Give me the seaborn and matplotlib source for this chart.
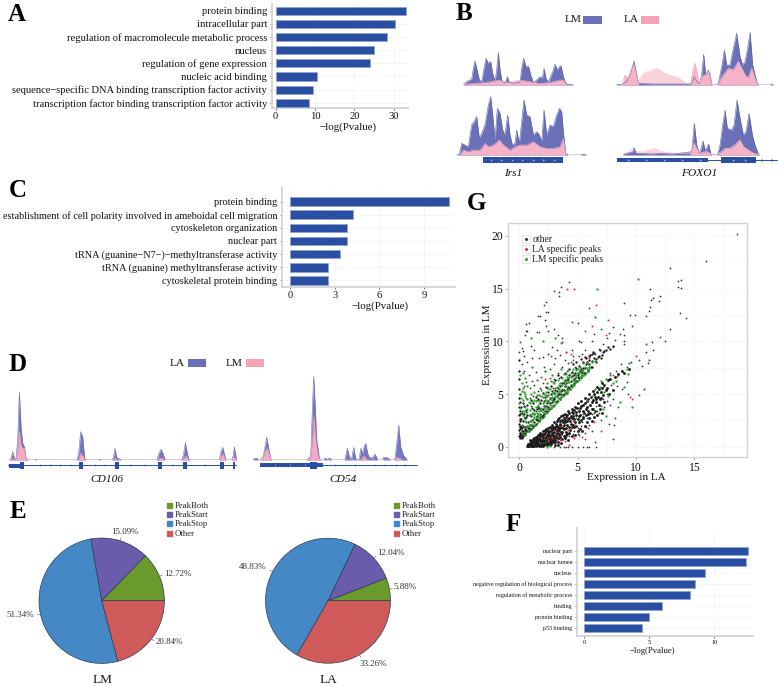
import matplotlib
matplotlib.use("Agg")
import matplotlib.pyplot as plt
import seaborn as sns
import pandas as pd
import numpy as np
from matplotlib.patches import Rectangle
from matplotlib.lines import Line2D
from matplotlib.legend_handler import HandlerTuple

sns.set_theme(style="white")
plt.rcParams['font.family'] = ['Liberation Serif', 'DejaVu Serif']
plt.rcParams['axes.unicode_minus'] = True

W, H = 778, 687
# ---------------- data ----------------
a_terms = ["protein binding", "intracellular part", "regulation of macromolecule metabolic process", "nucleus",
           "regulation of gene expression", "nucleic acid binding",
           "sequence\u2212specific DNA binding transcription factor activity",
           "transcription factor binding transcription factor activity"]
a_vals = [33.0, 30.4, 28.2, 25.1, 23.9, 10.5, 9.6, 8.6]
c_terms = ["protein binding", "establishment of cell polarity involved in ameboidal cell migration",
           "cytoskeleton organization", "nuclear part", "tRNA (guanine\u2212N7\u2212)\u2212methyltransferase activity",
           "tRNA (guanine) methyltransferase activity", "cytoskeletal protein binding"]
c_vals = [10.65, 4.2, 3.83, 3.83, 3.35, 2.57, 2.55]
f_terms = ["nuclear part", "nuclear lumen", "nucleus", "negative regulation of biological process",
           "regulation of metabolic process", "binding", "protein binding", "p53 binding"]
f_vals = [12.58, 12.45, 9.3, 8.5, 8.1, 5.95, 4.95, 4.45]
pie_labels = ["PeakBoth", "PeakStart", "PeakStop", "Other"]
pie_lm = [12.72, 15.09, 51.34, 20.84]
pie_la = [5.88, 12.04, 48.83, 33.26]
pie_colors = ["#6b9a2c", "#6a5cab", "#4488c6", "#d05a5a"]

irs1_top_lm = [(130,0),(140,10),(150,15),(155,18),(160,50),(165,72),(170,50),(178,15),(185,10),(192,50),(198,80),(205,65),(212,70),(218,35),(225,12),(230,45),(235,98),(240,45),(246,12),(255,5),(262,25),(268,8),(280,5),(300,8),(305,50),(311,80),(318,55),(326,55),(332,30),(340,8),(350,15),(360,25),(367,20),(372,50),(378,20),(385,8),(392,25),(398,40),(405,62),(412,45),(418,55),(423,58),(430,25),(437,5),(445,2),(455,2),(460,0)]
irs1_top_la = [(130,2),(160,5),(200,8),(235,15),(260,8),(300,15),(330,10),(360,5),(390,8),(420,15),(430,15),(437,3),(440,0)]
irs1_bot_lm = [(110,0),(118,3),(125,35),(135,30),(145,25),(155,90),(162,100),(170,115),(178,50),(185,65),(195,90),(205,150),(212,175),(218,120),(225,45),(232,140),(240,125),(248,75),(255,60),(263,120),(270,60),(277,30),(285,35),(290,75),(298,35),(305,100),(312,165),(320,120),(330,115),(340,60),(350,70),(358,60),(365,40),(372,135),(380,60),(390,90),(400,85),(410,120),(418,140),(425,130),(430,70),(437,5),(445,0),(480,0),(490,3),(500,0)]
irs1_bot_la = [(120,2),(130,15),(145,10),(160,15),(180,15),(195,35),(205,25),(220,30),(238,45),(250,30),(270,15),(285,25),(300,30),(320,30),(340,40),(360,25),(380,20),(400,20),(420,25),(430,50),(437,5),(440,0)]
foxo_top_lm = [(590,2),(600,2),(606,0),(608,3),(620,10),(630,30),(642,72),(650,30),(656,5),(700,3),(760,3),(815,3),(823,25),(830,10),(838,3),(845,30),(851,92),(857,30),(865,45),(870,30),(875,2),(878,0),(893,0),(900,30),(906,60),(913,105),(920,60),(930,60),(940,110),(950,155),(960,85),(968,60),(975,70),(983,110),(990,158),(998,60),(1005,30),(1012,5),(1015,0),(1050,0),(1055,3),(1060,0)]
foxo_top_la = [(608,5),(615,30),(625,20),(635,50),(642,60),(650,30),(655,5),(660,20),(670,35),(680,40),(695,45),(710,50),(720,45),(735,35),(750,30),(770,25),(785,15),(800,5),(812,5),(818,40),(825,65),(832,30),(838,5),(845,25),(855,30),(865,40),(870,35),(875,3),(878,0),(893,0),(900,15),(910,30),(925,50),(940,45),(955,70),(965,50),(975,30),(985,20),(995,50),(1003,25),(1012,3),(1014,0)]
foxo_bot_lm = [(610,2),(640,10),(642,22),(648,5),(700,3),(720,5),(760,3),(815,10),(823,95),(830,30),(838,5),(842,15),(849,42),(855,15),(860,20),(866,33),(872,5),(875,0),(892,0),(900,30),(908,90),(915,135),(922,80),(935,75),(942,90),(951,165),(960,110),(970,60),(978,70),(987,125),(997,60),(1005,30),(1015,3),(1018,0)]
foxo_bot_la = [(610,3),(625,8),(640,22),(650,10),(665,10),(680,15),(705,20),(720,12),(740,8),(780,5),(812,5),(822,35),(832,15),(840,5),(848,8),(860,10),(870,5),(875,0),(892,2),(905,10),(915,20),(930,20),(945,30),(960,45),(970,25),(985,15),(1000,5),(1015,2),(1018,0)]

cd106_la = [(28,0),(33,5),(38,25),(43,5),(48,5),(53,60),(58,205),(63,100),(68,50),(73,40),(78,5),(85,0),(105,0),(108,3),(112,0),(230,0),(236,20),(242,85),(248,70),(254,5),(258,0),(296,0),(300,3),(304,0),(335,0),(340,8),(345,35),(350,8),(358,3),(365,0),(470,0),(477,20),(483,32),(489,20),(495,0),(545,0),(550,15),(556,52),(562,20),(566,3),(570,0),(658,0),(663,25),(668,38),(674,15),(678,0),(695,0),(700,15),(703,40),(707,15),(710,0)]
cd106_lm = [(28,0),(38,3),(48,3),(53,30),(58,85),(63,45),(68,35),(73,35),(78,3),(82,0),(232,0),(236,3),(242,20),(250,10),(254,0),(340,0),(345,6),(350,0),(474,0),(478,5),(488,5),(492,0),(546,0),(550,4),(558,12),(564,2),(567,0),(659,0),(663,12),(670,18),(675,2),(678,0),(696,0),(700,10),(706,5),(710,0)]
cd54_la = [(760,0),(762,5),(772,5),(774,0),(780,0),(785,5),(790,12),(795,40),(800,68),(806,35),(812,5),(816,0),(920,0),(925,5),(932,10),(938,180),(941,250),(945,175),(950,60),(958,5),(962,0),(972,0),(973,5),(980,5),(982,0),(984,0),(985,5),(992,5),(994,0),(1032,0),(1035,3),(1042,35),(1048,10),(1052,3),(1055,5),(1061,38),(1067,5),(1072,0),(1076,2),(1078,5),(1082,35),(1088,20),(1092,40),(1097,50),(1103,20),(1108,8),(1118,6),(1125,18),(1130,8),(1133,0),(1148,0),(1150,8),(1160,8),(1170,2),(1173,0),(1183,0),(1185,5),(1190,50),(1196,105),(1202,40),(1210,15),(1218,5),(1222,0)]
cd54_lm = [(780,0),(785,5),(790,10),(797,30),(802,35),(812,5),(815,0),(922,0),(925,2),(932,8),(938,70),(942,130),(946,70),(952,20),(958,3),(960,0),(1052,0),(1058,3),(1062,0),(1082,0),(1085,5),(1092,12),(1098,5),(1102,0),(1186,0),(1190,8),(1200,5),(1206,0)]

other_lower = [(0.8,0.1),(0.9,0.3),(1.0,0.1),(1.0,0.5),(1.1,0.2),(1.2,0.4),(1.2,0.7),(1.3,0.1),(1.4,0.5),(1.4,0.9),(1.5,0.2),(1.6,0.7),(1.6,1.1),(1.7,0.3),(1.8,0.9),(1.8,1.3),(1.9,0.1),(1.9,0.5),(2.0,1.1),(2.0,1.5),(2.1,0.3),(2.2,0.8),(2.2,1.3),(2.3,1.7),(2.4,0.5),(2.4,1.0),(2.5,1.5),(2.6,1.9),(2.6,0.2),(2.7,0.8),(2.8,1.3),(2.8,2.1),(2.9,1.7),(3.0,1.0),(3.0,2.3),(3.1,0.4),(3.2,1.5),(3.2,2.0),(3.3,2.6),(3.4,1.1),(3.5,1.8),(3.5,2.4),(3.6,2.9),(3.7,1.4),(3.8,2.1),(3.8,2.7),(3.9,3.1),(4.0,1.8),(4.1,2.4),(4.1,3.0),(4.2,3.4),(4.4,2.2),(4.4,2.9),(4.5,3.6),(4.6,3.2),(4.7,2.6),(4.8,3.8),(4.9,3.3),(5.0,4.1),(5.1,2.9),(5.2,3.7),(5.3,4.3),(5.5,3.4),(5.5,4.0),(5.6,4.6),(5.8,3.8),(5.9,4.5),(6.0,5.0),(6.2,4.2),(6.3,5.3),(6.5,4.7),(6.7,5.7),(7.0,5.2),(7.1,6.0),
(0.7,0.1),(0.75,0.2),(0.85,0.15),(0.95,0.6),(1.05,0.35),(1.15,0.05),(1.25,0.55),(1.35,0.3),(1.45,0.75),(1.55,0.45),(1.65,0.1),(1.75,0.6),(1.85,1.1),(1.95,0.75),(2.05,0.1),(2.15,0.55),(2.25,1.05),(2.35,0.25),(2.45,1.25),(2.55,0.7),(2.65,1.45),(2.75,0.45),(2.85,1.0),(2.95,0.6),(3.05,1.9),(3.15,1.2),(3.25,0.8),(3.35,1.7),(3.45,2.2),(3.55,1.2),(3.65,2.5),(3.75,1.8),(3.95,2.5),(4.25,2.7),
(0.72,0.05),(0.78,0.28),(0.88,0.38),(1.02,0.28),(1.12,0.55),(1.08,0.06),(1.22,0.18),(1.28,0.82),(1.32,0.38),(1.42,0.1),(1.42,0.68),(1.52,0.35),(1.52,0.95),(1.62,0.22),(1.62,0.55),(1.72,0.75),(1.72,1.15),(1.82,0.15),(1.82,0.42),(1.88,0.68),(1.92,1.25),(2.02,0.25),(2.02,0.52),(2.02,0.88),(2.12,0.12),(2.12,1.22),(2.18,0.65),(2.18,1.55),(2.28,0.38),(2.28,0.9),(2.32,1.45),(2.38,0.15),(2.42,0.72),(2.42,1.2),(2.48,1.75),(2.52,0.35),(2.52,0.98),(2.58,1.4),(2.62,0.55),(2.68,1.1),(2.68,1.75),(2.72,0.25),(2.78,1.55),(2.82,0.65),(2.88,0.4),(2.88,1.15),(2.92,1.9),(2.98,0.8),(2.98,1.4),(3.08,0.15),(3.08,0.6),(3.08,1.65),(3.12,2.2),(3.18,1.0),(3.22,2.4),(3.28,0.45),(3.28,1.3),(3.32,1.9),(3.42,0.8),(3.42,1.55),(3.42,2.75),(3.52,0.95),(3.52,2.1),(3.58,1.4),(3.62,0.7),(3.68,1.9),(3.72,2.35),(3.72,3.0),(3.82,1.05),(3.82,1.65),(3.92,2.3),(3.98,1.35),(3.98,2.85),(4.08,2.05),(4.12,1.25),(4.18,2.65),(4.22,3.2),(4.28,1.9),(4.32,2.45),(4.38,1.55),(4.48,2.75),(4.52,3.3),(4.58,2.1),(4.62,2.9),(4.72,3.5),(4.78,2.35),(4.88,3.0),(4.92,3.7),(5.02,2.6),(5.12,3.4),(5.22,3.0),(5.32,3.9),(5.42,2.8),(5.52,3.2),(5.62,4.1),(5.72,3.55),(5.82,4.3),(5.92,3.1),(6.02,4.0),(6.12,4.7),(6.22,3.6),(6.32,4.4),(6.42,5.0),(6.55,4.2),(6.62,5.2),(6.72,4.7),(6.85,5.5),(6.95,4.5),(7.1,5.6),(7.3,5.9),(7.4,5.4),(7.6,6.3),(7.8,6.4),
(3.3,0.2),(3.6,0.35),(3.9,0.8),(4.0,1.1),(4.2,0.6),(4.3,1.3),(4.5,1.0),(4.5,1.9),(4.7,1.9),(4.8,1.1),(4.9,2.0),(5.0,1.5),(5.1,2.3),(5.2,1.7),(5.3,2.5),(5.4,1.5),(5.5,2.7),(5.6,2.0),(5.7,3.0),(5.8,2.3),(5.9,3.4),(6.0,2.7),(6.1,3.2),(6.2,2.4),(6.3,3.6),(6.4,2.8),(6.5,3.4),(6.6,4.5),(6.7,3.0),(6.8,4.0),(6.9,3.6),(7.0,4.6),(7.1,3.2),(7.2,4.9),(7.3,4.2),(7.5,5.6),(7.7,5.0),(8.0,5.4),(8.2,6.6),(8.5,6.9),(8.8,7.2),(9.0,7.0),(9.4,7.4)]
other_upper = [(0.0,1.0),(0.0,1.6),(0.0,2.2),(0.0,3.0),(0.0,3.8),(0.0,4.6),(0.0,5.5),(0.0,6.4),(0.0,7.2),(0.0,8.2),(0.1,0.8),(0.1,1.3),(0.1,2.0),(0.2,0.9),(0.2,1.5),(0.3,1.1),(0.3,2.4),(0.5,1.2),(0.5,1.7),(0.8,1.5),(1.0,1.7),(1.2,2.0),(1.4,2.2),(1.5,2.5),(1.7,2.4),(1.8,2.8),(2.0,3.0),(2.0,2.8),(2.2,3.4),(2.4,3.3),(2.5,3.8),(2.7,3.7),(2.8,4.2),(3.0,4.0),(3.0,4.5),(3.2,4.3),(3.3,5.0),(3.5,4.6),(3.6,5.3),(3.8,5.0),(3.9,5.8),(4.0,5.2),(4.1,6.3),(4.3,5.6),(4.4,6.2),(4.6,5.9),(4.7,6.8),(4.9,6.2),(5.0,7.0),(5.1,6.5),(5.3,7.4),(5.4,6.8),(5.6,7.0),(5.7,7.8),(5.9,7.3),(6.0,8.2),(6.2,7.6),(6.4,8.4),(6.6,8.0),(6.8,8.6),(7.0,8.4),(7.2,9.0),(7.4,9.2),(7.6,9.5),(7.8,9.3),(8.0,9.6),
(0.02,1.3),(0.02,1.9),(0.02,2.6),(0.02,3.4),(0.02,4.2),(0.02,5.0),(0.05,0.9),(0.05,1.15),(0.08,1.7),(0.08,2.4),(0.1,3.1),(0.12,3.8),(0.15,1.1),(0.15,1.9),(0.18,2.6),(0.22,1.2),(0.22,3.2),(0.25,0.85),(0.25,1.8),(0.28,4.1),(0.32,1.5),(0.35,1.0),(0.35,2.0),(0.38,3.1),(0.42,1.3),(0.45,1.9),(0.48,2.7),(0.52,1.45),(0.55,3.5),(0.58,1.6),(0.62,2.0),(0.65,1.5),(0.68,3.0),(0.72,1.75),(0.78,2.3),(0.82,1.8),(0.88,1.7),(0.92,2.1),(0.98,2.9),(1.05,2.0),(1.1,2.5),(1.15,1.9),(1.25,2.3),(1.3,3.1),(1.35,2.1),(1.45,2.6),(1.55,2.9),(1.6,3.8),(1.65,2.5),(1.75,3.1),(1.85,3.5),(1.95,2.9),(2.05,3.6),(2.15,3.1),(2.15,4.3),(2.25,3.9),(2.35,3.4),(2.45,4.3),(2.55,3.6),(2.65,4.1),(2.75,5.0),(2.85,3.9),(2.95,4.6),(3.05,5.4),(3.15,4.2),(3.25,4.8),(3.35,5.6),(3.45,4.5),(3.55,5.0),(3.65,6.0),(3.75,4.9),(3.85,5.4),(3.95,6.3),(4.05,5.1),(4.15,5.7),(4.25,6.8),(4.35,5.5),(4.45,5.9),(4.55,7.1),(4.65,6.0),(4.75,6.5),(4.85,7.5),(4.95,6.2),(5.05,6.8),(5.15,7.7),(5.25,6.6),(5.35,7.1),(5.45,8.0),(5.55,7.0),(5.65,7.5),(5.75,8.4),(5.85,7.2),(5.95,7.8),(6.05,8.7),(6.15,7.6),(6.25,8.1),(6.35,9.0),(6.55,8.3),(6.75,8.5),(6.95,9.2),(7.1,8.7),(7.3,9.1),
(0.4,3.9),(0.6,2.8),(0.7,4.0),(0.9,3.0),(1.0,4.4),(1.1,3.7),(1.2,4.1),(1.3,3.5),(1.4,4.7),(1.5,3.6),(1.6,4.5),(1.7,3.7),(1.8,4.1),(1.9,4.4),(2.0,5.1),(2.1,3.9),(2.2,4.7),(2.3,5.7),(2.4,4.1),(2.5,5.2),(2.6,4.6),(2.7,5.8),(2.8,5.3),(2.9,4.4),(3.0,5.1),(3.1,6.3),(3.2,5.3),(3.3,6.8),(3.4,5.0),(3.5,5.8),(3.6,6.6),(3.7,5.4),(3.8,6.0),(3.9,7.0),(4.0,6.0),(4.1,5.5),(4.2,6.4),(4.3,7.4),(4.4,5.8),(4.5,6.7),(4.6,7.8),(4.7,6.3),(4.8,7.0),(4.9,8.0),(5.0,6.6),(5.2,7.2),(5.3,8.3),(5.5,7.5),(5.6,8.5),(5.8,8.0),(6.0,8.6),(6.2,8.8),(6.4,8.9)]
other_sparse = [(18.7,20.2),(16.0,17.6),(12.9,17.0),(13.6,15.7),(13.9,15.8),(13.6,15.2),(13.9,15.1),(11.2,15.0),(11.5,14.1),(11.3,13.9),(12.1,14.3),(12.0,13.8),(11.2,13.3),(11.1,12.9),(10.9,12.4),(13.8,12.7),(14.3,12.2),(12.9,11.2),(12.1,10.4),(12.5,10.0),(11.4,9.9),(11.5,9.2),(10.9,9.0),(11.0,7.9),(9.0,13.6),(9.5,12.5),(9.9,12.5),(9.7,11.5),(4.3,15.6),(3.6,15.2),(3.4,14.7),(3.0,14.8),(3.4,14.3),(2.3,13.7),(2.1,13.4),(2.3,12.8),(2.5,12.8),(1.6,12.4),(1.8,12.4),(2.2,12.0),(0.6,11.6),(0.8,11.7),(0.6,11.0),(0.7,11.0),(0.5,10.6),(1.5,10.9),(2.3,11.5),(2.5,11.0),(3.0,11.2),(3.3,10.6),(3.7,10.3),(5.0,11.7),(6.0,13.2),(5.3,9.9),(5.1,10.0),(6.2,10.0),(6.4,10.7),(7.0,11.2),(8.0,11.4),(7.7,10.8),(8.9,11.2),(9.0,10.6),(8.6,10.7),(8.2,10.1),(8.0,9.5),(9.0,10.0),(9.0,9.7),
(10.3,4.9),(9.3,5.0),(8.0,4.5),(8.5,3.8),(8.2,2.7),(8.1,2.1),(8.0,0.7),(7.7,2.2),(7.0,2.5),(6.2,1.5),(6.5,0.4),(6.0,0.0),(5.0,0.0),(5.5,0.0),(5.8,0.0),(4.5,0.0),(4.0,0.0),(3.5,0.0),(3.0,0.0),(4.2,0.0),(3.8,0.0),(6.6,0.0),
(0.0,9.0),(0.1,9.9),(0.2,9.4),(0.3,9.1),(0.4,8.6),(0.2,7.8),(0.4,7.2),(0.7,8.0),(1.0,9.6),(1.3,9.2),(1.1,8.4),(0.8,6.8),(0.6,6.1),(0.4,5.8),(0.9,5.6),(1.4,7.1),(1.7,8.4),(2.0,8.5),(2.2,7.2),(2.5,8.8),(2.8,9.5),(3.2,9.2),(3.5,8.7),(4.0,9.0),(4.5,9.2),(3.0,7.8),(3.7,7.6),(4.4,8.0),(5.1,8.6),(5.6,9.2),(2.0,6.0),(2.6,6.5),(1.2,4.8),(1.6,5.3),(1.0,3.9),(0.7,3.3),(1.4,3.4),(2.3,4.9),(2.9,5.6),(3.4,6.5),(4.1,7.2),(4.8,7.6),(6.5,8.8),(6.8,9.3),(7.2,9.7),(7.5,10.3),
(7.8,7.0),(8.3,7.2),(8.7,7.8),(9.2,7.6),(9.6,8.0),(10.3,8.2),(10.5,7.7),(7.5,5.0),(7.2,5.7),(6.9,4.6),(6.6,3.9),(6.2,3.1),(5.8,2.7),(5.4,2.3),(5.0,1.8),(4.6,1.2),(4.0,0.9),(5.6,1.3),(5.1,1.1),(6.0,2.1),(6.8,3.2),(7.3,3.8),(7.8,4.0),(8.8,5.5),(9.2,6.1),(8.4,5.8),(7.9,5.9),
(0.5,4.8),(0.9,4.6),(1.1,6.2),(1.3,5.9),(1.5,4.4),(1.8,5.6),(1.9,6.6),(2.1,7.6),(2.4,5.6),(2.6,7.4),(3.0,6.4),(3.1,8.4),(3.3,7.0),(3.9,8.2),(4.2,7.9),(4.6,8.6),(5.4,8.8),(5.3,2.0),(5.7,1.9),(6.1,2.7),(6.4,3.2),(6.7,3.4),(7.0,3.9),(7.2,4.5),(7.5,4.3),(4.3,1.0),(4.7,1.5),(5.0,1.2)]
green_pts = [(0.0,4.1),(0.1,5.0),(0.1,6.8),(0.2,6.0),(0.2,3.4),(0.3,4.4),(0.3,7.0),(0.4,2.8),(0.4,5.2),(0.5,3.8),(0.5,6.5),(0.6,2.3),(0.6,4.6),(0.7,2.0),(0.7,5.8),(0.8,3.0),(0.8,4.2),(0.9,2.4),(1.0,3.0),(1.0,5.0),(1.1,2.2),(1.2,3.6),(1.2,2.6),(1.3,4.4),(1.4,2.8),(1.5,3.2),(1.6,2.7),(1.6,4.0),(1.7,3.4),(1.8,3.0),(1.9,3.7),(1.9,4.8),(2.0,3.3),(2.1,4.2),(2.2,3.7),(2.3,4.4),(2.4,3.6),(2.5,4.9),(2.6,4.0),(2.7,4.5),(2.8,3.9),(2.9,5.2),(3.0,4.3),(3.1,4.8),(3.2,5.7),(3.3,4.6),(3.4,5.2),(3.5,6.0),(3.6,4.9),(3.7,5.5),(3.8,6.2),(3.9,5.2),(4.0,5.8),(4.1,6.6),(4.2,5.5),(4.3,6.1),(4.4,7.0),(4.5,5.9),(4.6,6.4),(4.8,6.1),(4.9,6.8),(5.0,7.4),(5.2,6.6),(5.3,7.0),(5.5,7.3),(5.6,6.9),(5.8,7.5),(6.0,7.6),(6.2,8.0),(6.5,8.1),(2.2,7.2),(1.5,6.3),(2.8,6.8),(3.6,7.4),(1.1,7.6),(3.7,9.9),(3.1,10.3),(6.5,12.3),(6.7,15.0),(10.2,15.9),(2.0,10.0),(1.0,10.3),
(7.0,6.2),(7.4,6.4),(7.8,6.8),(8.0,6.0),(6.5,5.5),(6.9,5.7),(6.2,4.8),(5.8,4.4),(7.3,5.2),(7.6,4.8),(8.3,6.2),(9.2,7.4),(9.4,7.9),(9.3,6.9),(9.0,5.7),(7.4,2.9),(7.2,3.6),(8.6,4.2),(9.7,3.8),(10.7,5.5),(10.9,9.7),(11.1,8.2),(6.4,3.5),(5.5,3.1),(4.9,2.7),(2.4,0.0),(2.6,0.1),
(0.3,1.2),(0.45,1.1),(0.6,1.35),(0.75,1.5),(0.9,1.6),(1.05,1.75),(1.2,1.9),(1.35,2.05),(1.5,2.25),(1.65,2.4),(1.8,2.6),(1.95,2.75),(2.1,2.95),(2.25,3.15),(2.4,3.3),(2.55,3.45),(2.7,3.65),(2.85,3.85),(3.0,4.0),(3.15,4.15),(3.3,4.3),(3.45,4.5),(3.6,4.7),(3.75,4.8),(3.9,5.0),(4.05,5.2),(4.2,5.35),(4.35,5.5),(4.5,5.7),(4.65,5.85),(4.8,6.0),(4.95,6.2),(5.1,6.35),(5.25,6.5),(5.4,6.7),(5.55,6.85),(5.7,7.0),(5.85,7.2),(6.0,7.4),(1.0,2.4),(1.3,2.8),(1.6,3.1),(1.9,3.5),(2.2,3.9),(2.5,4.2),(2.8,4.7),(3.1,5.1),(3.4,5.5),(3.7,5.9),(4.0,6.3),(4.3,6.6),(4.6,7.0),(4.9,7.3),(5.2,7.6),(5.5,7.9),(0.2,2.1),(0.3,3.0),(0.5,2.4),(0.6,3.3),(0.8,2.1),(0.9,3.5),(1.1,3.2),(1.4,3.8),(1.7,4.3),(2.0,4.7),(2.3,5.2),(2.6,5.5),(3.0,6.0),(3.3,6.3),(3.8,6.9),(4.2,7.3),(0.1,3.7),(0.15,4.6),(0.2,5.3),(0.3,5.6),(0.5,5.0),(0.7,4.5),(1.3,5.2),(1.5,4.9),(1.9,5.4),(2.4,6.0),(2.7,6.2),
(0.4,3.4),(0.7,3.6),(0.9,4.1),(1.1,4.3),(1.3,3.2),(1.4,4.3),(1.5,3.8),(1.7,4.9),(1.8,3.6),(2.0,4.1),(2.1,5.0),(2.2,4.4),(2.4,4.8),(2.5,5.6),(2.6,4.5),(2.8,5.0),(2.9,6.1),(3.1,5.6),(3.2,4.9),(3.4,5.9),(3.5,5.3),(3.7,6.5),(3.9,6.0),(4.0,6.9),(4.2,6.1),(4.4,6.6),(4.6,7.4),(4.7,6.2),(4.9,6.6),(5.1,7.0),(5.4,7.3),(5.6,7.6),(5.9,7.8)]
red_pts = [(4.1,15.0),(4.7,15.0),(6.6,13.4),(4.5,11.8),(5.6,11.0),(6.2,11.5),(7.6,12.0),(1.7,10.9),(3.6,9.8),(4.0,9.0),(4.4,8.8),(4.6,8.2),(5.8,8.0),(6.0,8.4),(7.4,10.6),(2.7,8.6),(2.2,6.4),(10.0,8.6),(8.0,6.8),(8.4,6.7),(9.7,4.5),(9.5,4.7),(2.5,0.6),(2.8,0.9),(3.2,0.6),(3.4,0.3),(3.1,1.2),(3.6,1.1),(3.9,0.5),(3.0,1.6),(4.2,1.6),(4.4,1.8),(4.8,2.1),(3.7,2.0),(2.2,1.0),(1.9,0.8),(5.4,0.9),(5.6,0.7),(5.9,1.8),(6.4,2.3),(4.6,2.4),(4.7,0.8),(7.0,1.5),(4.3,0.2),(3.5,0.6)]

# ---------------- helpers ----------------
fig = plt.figure(figsize=(W/100, H/100), dpi=100, facecolor='white')

def axpx(l, t, r, b, **kw):
    return fig.add_axes([l/W, 1-b/H, (r-l)/W, (b-t)/H], **kw)

def txt(x, y, s, **kw):
    kw.setdefault('ha', 'center'); kw.setdefault('va', 'center'); kw.setdefault('color', '#111111')
    fig.text(x/W, 1-y/H, s, **kw)

for s, x, y in [("A",17,14.5),("B",464,14),("C",18,191),("D",18,364),("E",17.5,512),("F",513,524.5),("G",476,204)]:
    txt(x, y, s, fontsize=18, fontweight='bold', color='black')

BAR = "#2a4fa2"
def hbars(box, terms, vals, x0_px, ppu, y0_px, step, ticks, fs_lab, fs_tick, height, xlabel, xl_xy, fs_x, grid='#e8e8e8'):
    l, t, r, b = box
    ax = axpx(l, t, r, b)
    df = pd.DataFrame({"term": terms, "value": vals})
    sns.barplot(data=df, y="term", x="value", orient="h", color=BAR, saturation=1, width=height,
                edgecolor="#8ea2d0", linewidth=0.5, ax=ax, zorder=3)
    ax.set_xlim((l-x0_px)/ppu, (r-x0_px)/ppu)
    ax.set_ylim((b-y0_px)/step, (t-y0_px)/step)
    ax.set_xticks(ticks)
    ax.set_ylabel("")
    ax.set_xlabel(xlabel, fontsize=fs_x, color='#111111')
    ax.xaxis.set_label_coords(xl_xy[0]/W, 1-xl_xy[1]/H, transform=fig.transFigure)
    ax.xaxis.label.set_va('center')
    ax.grid(True, axis='both', color=grid, linestyle=':', linewidth=0.7, zorder=0)
    ax.set_axisbelow(True)
    for s in ['top', 'right']:
        ax.spines[s].set_visible(False)
    for s in ['left', 'bottom']:
        ax.spines[s].set_color('#d4d4d4'); ax.spines[s].set_linewidth(1.3)
    ax.tick_params(axis='y', labelsize=fs_lab, length=1.5, width=0.6, color='#555555', pad=2, left=True, labelcolor='#111111')
    ax.tick_params(axis='x', labelsize=fs_tick, length=1.5, width=0.6, color='#555555', pad=1.5, bottom=True, labelcolor='#111111')
    return ax

hbars((272,4,408,108), a_terms, a_vals, 275.5, 3.94, 10.7, 13.15, [0,10,20,30], 7.6, 7.6, 0.62, "\u2212log(Pvalue)", (348,127.5), 7.8)
hbars((282,187,455,287), c_terms, c_vals, 290, 14.9, 201.7, 13.1, [0,3,6,9], 7.4, 7.6, 0.66, "\u2212log(Pvalue)", (380,306.5), 7.8)
hbars((577,528,753,636), f_terms, f_vals, 584.3, 13.0, 551, 11.0, [0,5,10], 4.3, 4.6, 0.74, "\u2212log(Pvalue)", (652,651), 6.2)

# tracks
def seg(pts, a, b):
    inner = [p for p in pts if a <= p[0] <= b]
    return [(a-1, 0)] + inner + [(b+1, 0)]

def track(box_zoom, ox, oy, scale, base, top, layers):
    xa, xb = box_zoom
    ax = axpx(ox+xa/scale, oy+top/scale, ox+xb/scale, oy+base/scale)
    ax.set_xlim(xa, xb); ax.set_ylim(0, base-top)
    ax.axhline(0, color='#c8cde0', lw=0.5, ls=':')
    for pts, fc, ec in layers:
        xs = [p[0] for p in pts]; ys = [p[1] for p in pts]
        ax.fill_between(xs, 0, ys, color=fc, lw=0)
        sns.lineplot(x=xs, y=ys, color=ec, lw=0.4, ax=ax, estimator=None, sort=False, legend=False)
    ax.axis('off')
    ax.patch.set_alpha(0)

LMB, LMB_E, LAB, LAB_E, PALE, PALE_E = "#6a70b8", "#5a60a8", "#f5b3c8", "#f5a8c0", "#f9d3dc", "#f9c8d6"
track((100,555),420,0,3,255,85,[(irs1_top_lm,LMB,LMB_E),(irs1_top_la,LAB,LAB_E)])
track((100,555),420,0,3,465,285,[(irs1_bot_lm,LMB,LMB_E),(irs1_bot_la,LAB,LAB_E)])
track((585,1072),420,0,3,255,85,[(foxo_top_la,PALE,PALE_E),(foxo_top_lm,LMB,LMB_E),
                                  (seg(foxo_top_la,608,656),LAB,LAB_E),(seg(foxo_top_la,812,878),LAB,LAB_E),
                                  (seg(foxo_top_la,893,1014),LAB,LAB_E)])
track((585,1072),420,0,3,465,285,[(foxo_bot_la,PALE,PALE_E),(foxo_bot_lm,LMB,LMB_E),
                                  (seg(foxo_bot_la,812,875),LAB,LAB_E),(seg(foxo_bot_la,892,1018),LAB,LAB_E)])
track((20,715),0,340,3,360,100,[(cd106_la,"#7478c0",LMB),(cd106_lm,"#f5aac4","#f5a0bc")])
track((755,1255),0,340,3,360,100,[(cd54_la,"#7478c0",LMB),(cd54_lm,"#f5aac4","#f5a0bc")])

# overlay: gene models and swatches
ov = axpx(0, 0, W, H)
ov.set_xlim(0, W); ov.set_ylim(H, 0); ov.axis('off'); ov.patch.set_alpha(0)
GENE = "#2a4fa2"
def exon(x0, x1, y0, y1, c=GENE):
    ov.add_patch(Rectangle((x0, y0), x1-x0, y1-y0, fc=c, ec='none'))
exon(483.3, 563, 157, 163)
ov.plot([491,501.5,512,522.5,533,543.5,554], [160]*7, ls='none', marker='4', ms=2, color='#b8c4e4', mew=0.4)
ov.plot([616.7,777], [160,160], color=GENE, lw=0.7)
exon(616.7, 708, 158, 162)
exon(721, 755.7, 157, 163)
ov.plot([628,646,664,682,700,733,745], [160]*7, ls='none', marker='4', ms=2, color='#b8c4e4', mew=0.4)
ov.plot([762,772], [160]*2, ls='none', marker='4', ms=2.5, color=GENE, mew=0.5)
ov.plot([8.3,236], [465.3,465.3], color=GENE, lw=0.7)
exon(9, 20, 463.5, 467.5)
for a, b in [(20,24),(79.3,83.3),(114.7,118.7),(158.3,162.3),(183,187.3),(220,224),(233,235.5)]:
    exon(a, b, 462, 468.7)
ov.plot([40,50,60,70,95,105,130,145,172,205], [465.3]*10, ls='none', marker='|', ms=2, color=GENE, mew=0.5)
ov.plot([260,416.7], [465.3,465.3], color=GENE, lw=0.7)
exon(260, 322.7, 462.7, 467.3)
exon(310, 316.7, 462, 468.7)
ov.plot([335,355,374,385,396,405], [465.3]*6, ls='none', marker='|', ms=2, color=GENE, mew=0.5)
ov.plot([275,290,305], [465.3]*3, ls='none', marker='|', ms=2, color='#b8c4e4', mew=0.4)
for x0, x1, y0, y1, c in [(583,601.7,16,24,"#6a70b8"),(640.7,659,16,24,"#f4a3b4"),
                           (188,206,359,367,"#6a70b8"),(245.7,264,359,367,"#f4a3b4")]:
    exon(x0, x1, y0, y1, c)
for x, y, s in [(572.7,20,"LM"),(631,20,"LA"),(177,363.5,"LA"),(234,363.5,"LM")]:
    txt(x, y, s, fontsize=8.2)
for x, y, s in [(512.7,173,"Irs1"),(699,173,"FOXO1"),(107,479,"CD106"),(343,479,"CD54")]:
    txt(x, y, s, fontsize=8.2, style='italic')

# pies
def pie(cx, cy, r, vals, label_px):
    ax = axpx(cx-r, cy-r, cx+r, cy+r)
    wedges, _ = ax.pie(vals, colors=pie_colors, startangle=0, counterclock=True, radius=1,
                       wedgeprops=dict(edgecolor='#2d3a55', linewidth=0.5))
    ax.set_xlim(-1, 1); ax.set_ylim(-1, 1); ax.set_aspect('equal')
    for w in wedges:
        w.set_clip_on(False)
    for w, v, (x, y) in zip(wedges, vals, label_px):
        txt(x, y, f"{v:.2f}%", fontsize=6.5, color='#333333')
        th = np.deg2rad((w.theta1+w.theta2)/2)
        ax.plot([np.cos(th), 1.05*np.cos(th)], [np.sin(th), 1.05*np.sin(th)], color='#555555', lw=0.4, clip_on=False)

pie(101.7, 600.7, 62.7, pie_lm, [(178,573.5),(125,531.7),(20,615),(169.5,642)])
pie(328, 600.7, 62.5, pie_la, [(405.5,586.7),(391,553),(253,567),(373,663.5)])
txt(103, 680, "LM", fontsize=9.5)
txt(328, 680, "LA", fontsize=9.5)
for lx in [163.5, 390.5]:
    handles = [Line2D([], [], ls='none', marker='s', ms=3.6, color=c) for c in pie_colors]
    fig.legend(handles, pie_labels, loc='upper left', bbox_to_anchor=(lx/W, 1-501.5/H), frameon=False,
               fontsize=6.3, labelspacing=0.14, handletextpad=0.0, handlelength=1.3, borderpad=0, borderaxespad=0,
               labelcolor='#222222')

# scatter G
ax = axpx(508.3, 223.3, 747.3, 456.7)
def pts(df_pts, color, s, alpha=1.0):
    d = pd.DataFrame(df_pts, columns=["la", "lm"])
    sns.scatterplot(data=d, x="la", y="lm", color=color, s=s, linewidth=0, alpha=alpha, ax=ax, legend=False, zorder=3)
pts(other_lower, "#1a1a1a", 4.2)
pts(other_upper, "#1a1a1a", 2.8)
pts(other_sparse, "#333333", 1.6)
pts(green_pts, "#2ea02e", 2.8)
pts(red_pts, "#e03040", 2.0)
ax.set_xlim(-0.94, 19.54); ax.set_ylim(-0.95, 21.2)
ax.set_xticks([0,5,10,15]); ax.set_yticks([0,5,10,15,20])
ax.set_xticks([2.5,7.5,12.5,17.5], minor=True); ax.set_yticks([2.5,7.5,12.5,17.5], minor=True)
ax.grid(True, which='both', color='#eeeeee', linestyle=':', linewidth=0.7)
ax.set_axisbelow(True)
for s in ax.spines.values():
    s.set_color('#d4d4d4'); s.set_linewidth(1.0)
ax.tick_params(axis='both', which='major', labelsize=8.4, length=1.5, width=0.5, color='#555555', pad=2, bottom=True, left=True, labelcolor='#111111')
ax.tick_params(axis='both', which='minor', length=0)
ax.set_xlabel("Expression in LA", fontsize=8, color='#111111')
ax.set_ylabel("Expression in LM", fontsize=8, color='#111111')
ax.xaxis.set_label_coords(626/W, 1-478/H, transform=fig.transFigure); ax.xaxis.label.set_va('center')
ax.yaxis.set_label_coords(487/W, 1-345/H, transform=fig.transFigure); ax.yaxis.label.set_va('center')
box = dict(ls='none', marker='s', ms=5.5, mfc='white', mec='#dddddd', mew=0.5)
hs = [(Line2D([], [], **box), Line2D([], [], ls='none', marker='o', ms=1.2, color=c)) for c in ["#333333","#e03040","#2ea02e"]]
ax.legend(hs, ["other","LA specific peaks","LM specific peaks"], handler_map={tuple: HandlerTuple(ndivide=1, pad=0)},
          loc='upper left', bbox_to_anchor=((521-508.3)/239, 1-(235.5-223.3)/233.4), frameon=False, fontsize=6.9,
          labelspacing=0.02, handletextpad=0.2, handlelength=1.0, borderpad=0, borderaxespad=0, labelcolor='#222222')

fig.savefig("out.png", dpi=100, facecolor='white')
